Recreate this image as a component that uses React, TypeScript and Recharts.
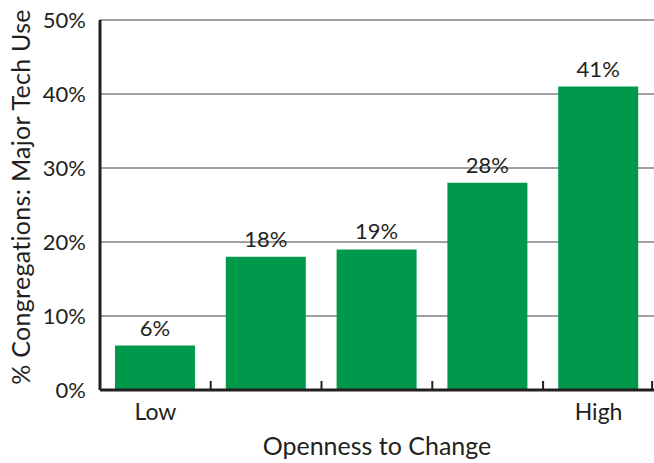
import React from 'react';
import { BarChart, Bar, XAxis, YAxis, CartesianGrid, LabelList } from 'recharts';

const categories = ['Low', '', '', '', 'High'];
const majorTechUse = [6, 18, 19, 28, 41];
const yTicks = [0, 10, 20, 30, 40, 50];

const data = categories.map((name, i) => ({ name, key: `c${i}`, value: majorTechUse[i] }));

const FONT = 'Lato, "Open Sans", sans-serif';
const INK = '#231f20';
const GREEN = '#00994c';

// tick marks sit on the category boundaries and point up into the plot
const XTick = (props: any) => {
  const { x, y, index } = props;
  const band = 111;
  const label = categories[index];
  const last = index === categories.length - 1;
  return (
    <g>
      {index > 0 && (
        <line x1={x - band / 2} x2={x - band / 2} y1={y} y2={y - 9} stroke={INK} strokeWidth={2} />
      )}
      {last && (
        <line x1={x + band / 2 - 2} x2={x + band / 2 - 2} y1={y} y2={y - 9} stroke={INK} strokeWidth={2} />
      )}
      {label && (
        <text x={x} y={y + 30} textAnchor="middle" fill={INK} fontSize={23} fontFamily={FONT}>
          {label}
        </text>
      )}
    </g>
  );
};

const YTitle = (props: any) => {
  const vb = props.viewBox || {};
  const cx = 20;
  const cy = (vb.y ?? 20) + (vb.height ?? 370) / 2 - 8;
  return (
    <text
      x={cx}
      y={cy}
      transform={`rotate(-90, ${cx}, ${cy})`}
      textAnchor="middle"
      dominantBaseline="central"
      fill={INK}
      fontSize={25}
      letterSpacing={0.3}
      fontFamily={FONT}
    >
      % Congregations: Major Tech Use
    </text>
  );
};

export default function App() {
  return (
    <div style={{ position: 'absolute', left: 0, top: 0, background: '#fff' }}>
      <BarChart
        width={654}
        height={463}
        data={data}
        margin={{ top: 20, right: 0, left: 0, bottom: 0 }}
        barSize={80}
      >
        <CartesianGrid vertical={false} stroke="#a0a0a3" strokeWidth={2} />
        <XAxis
          dataKey="key"
          height={73}
          tickLine={false}
          tickSize={0}
          tickMargin={0}
          axisLine={{ stroke: INK, strokeWidth: 3 }}
          tick={<XTick />}
          interval={0}
          label={{
            value: 'Openness to Change',
            position: 'insideBottom',
            offset: 8,
            fill: INK,
            fontSize: 25,
            fontFamily: FONT,
          }}
        />
        <YAxis
          width={100}
          domain={[0, 50]}
          ticks={yTicks}
          interval={0}
          tickLine={false}
          axisLine={{ stroke: INK, strokeWidth: 3 }}
          tickFormatter={(v) => `${v}%`}
          tick={{ fill: INK, fontSize: 22, fontFamily: FONT }}
          tickMargin={8}
          label={<YTitle />}
        />
        <Bar dataKey="value" fill={GREEN} isAnimationActive={false}>
          <LabelList
            dataKey="value"
            position="top"
            offset={10}
            formatter={(v: any) => `${v}%`}
            fill={INK}
            fontSize={22}
            fontFamily={FONT}
          />
        </Bar>
      </BarChart>
    </div>
  );
}
